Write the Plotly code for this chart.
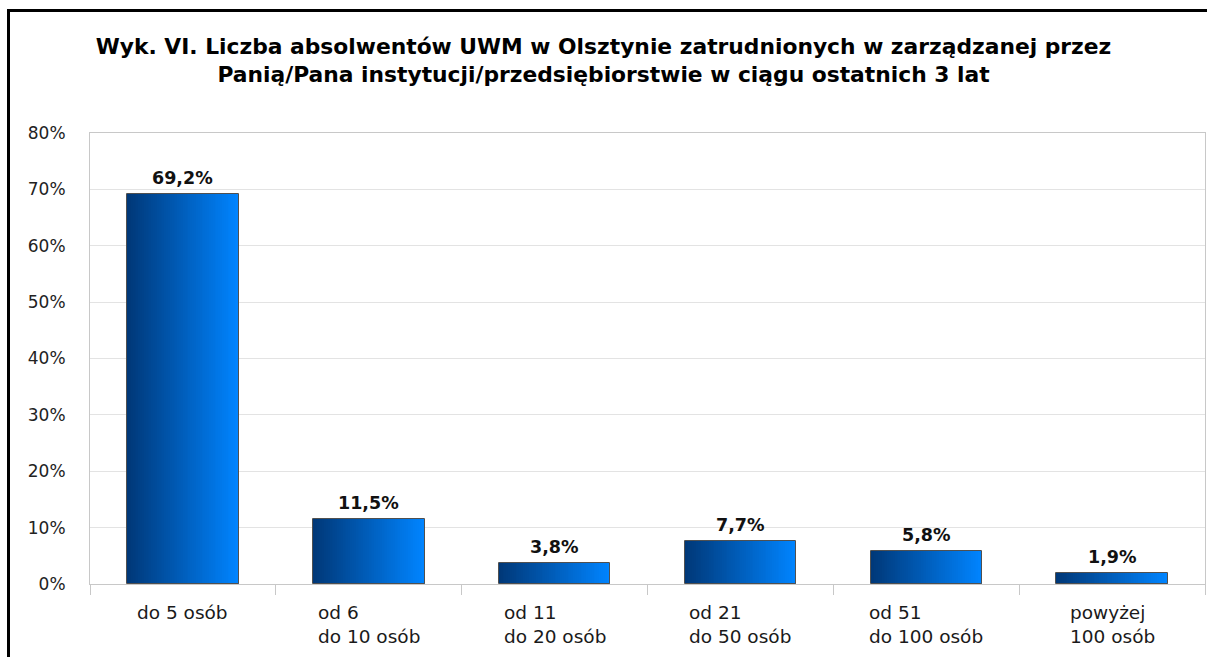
import plotly.graph_objects as go

categories = ["do 5 osób", "od 6\ndo 10 osób", "od 11\ndo 20 osób",
              "od 21\ndo 50 osób", "od 51\ndo 100 osób", "powyżej\n100 osób"]
values = [69.2, 11.5, 3.8, 7.7, 5.8, 1.9]
y_ticks = [0, 10, 20, 30, 40, 50, 60, 70, 80]
title_lines = ["Wyk. VI. Liczba absolwentów UWM w Olsztynie zatrudnionych w zarządzanej przez",
               "Panią/Pana instytucji/przedsiębiorstwie w ciągu ostatnich 3 lat"]

FONT = "DejaVu Sans, Verdana, sans-serif"
BAR_W = 0.6
N = 60
c0 = (0, 56, 120)
c1 = (0, 132, 255)

xkeys = [f"c{i}" for i in range(len(categories))]

fig = go.Figure()
s = BAR_W / N
for i in range(N):
    t = i / (N - 1)
    col = "rgb({},{},{})".format(*[round(a + (b - a) * t) for a, b in zip(c0, c1)])
    w = s * 1.8 if i < N - 1 else s
    fig.add_trace(go.Bar(x=xkeys, y=values, width=[w] * len(values),
                         offset=[-BAR_W / 2 + i * s] * len(values),
                         marker=dict(color=col, line=dict(width=0)),
                         hoverinfo="skip", showlegend=False))
# outline
fig.add_trace(go.Bar(x=xkeys, y=values, width=[BAR_W] * len(values),
                     marker=dict(color="rgba(0,0,0,0)", line=dict(color="#505050", width=1)),
                     showlegend=False))

annotations = []
for k, v in zip(xkeys, values):
    annotations.append(dict(x=k, y=v, xref="x", yref="y", yanchor="bottom", yshift=4,
                            text="<b>" + f"{v:.1f}%".replace(".", ",") + "</b>", showarrow=False,
                            font=dict(family=FONT, size=17.5, color="#111111")))
for k, c in zip(xkeys, categories):
    txt = "<br>".join(f"<span style='font-size:18.5px'>{line}</span>" for line in c.split("\n"))
    annotations.append(dict(x=k, y=0, xref="x", yref="paper", yanchor="top", yshift=-16,
                            text=txt, showarrow=False, align="left",
                            font=dict(family=FONT, size=18.5, color="#1a1a1a")))

title_txt = "<br>".join(f"<span style='font-size:21.8px'>{l}</span>" for l in title_lines)

fig.update_layout(
    width=1207, height=657,
    margin=dict(l=90, r=2, t=133, b=73),
    paper_bgcolor="white", plot_bgcolor="white",
    barmode="overlay", bargap=0,
    title=dict(text=f"<b>{title_txt}</b>", x=0.5, xanchor="center", xref="container",
               y=1 - 54 / 657, yanchor="top", yref="container",
               font=dict(family=FONT, size=21.5, color="#000000")),
    annotations=annotations,
    xaxis=dict(type="category", categoryorder="array", categoryarray=xkeys,
               showticklabels=False, showgrid=False, tickson="boundaries",
               ticks="outside", ticklen=10, tickcolor="#c8c8c8", tickwidth=1,
               showline=True, linecolor="#c8c8c8", linewidth=1, mirror=True,
               range=[-0.5, len(xkeys) - 0.5]),
    yaxis=dict(range=[0, 80], tickvals=y_ticks, ticktext=[f"{t}%" for t in y_ticks],
               showgrid=True, gridcolor="#e3e3e3", gridwidth=1, zeroline=False,
               showline=True, linecolor="#c8c8c8", linewidth=1, mirror=True,
               ticks="", ticklabelstandoff=20,
               tickfont=dict(family=FONT, size=17, color="#222222")),
    shapes=[dict(type="rect", xref="paper", yref="paper",
                 x0=-81.5 / 1115, x1=1.2, y0=-0.5, y1=(584 - 10.5) / 451,
                 line=dict(color="black", width=3), fillcolor="rgba(0,0,0,0)", layer="above")],
)

fig.write_html("out.html", config={"displayModeBar": False},
               post_script="document.body.style.margin='0px';")
